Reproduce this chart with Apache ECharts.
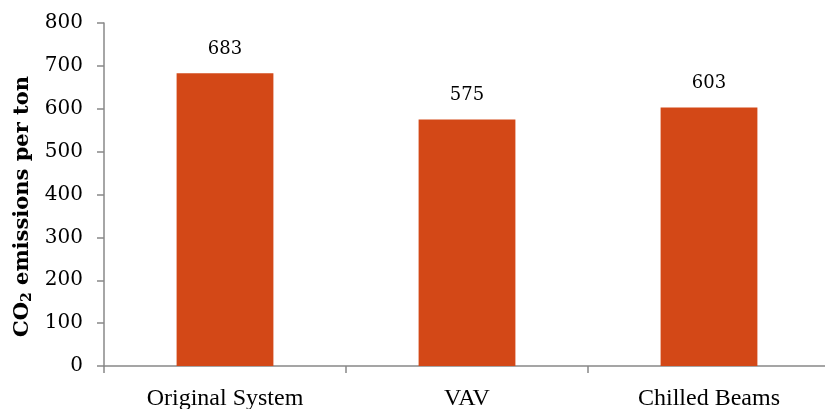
<!DOCTYPE html>
<html><head><meta charset="utf-8">
<script src="https://cdn.jsdelivr.net/npm/echarts@6/dist/echarts.min.js"></script>
<style>html,body{margin:0;padding:0;background:#fff}#c{width:825px;height:409px}</style>
</head><body><div id="c"></div>
<script>
var categories = ['Original System', 'VAV', 'Chilled Beams'];
var values = [683, 575, 603];
var yTicks = [0, 100, 200, 300, 400, 500, 600, 700, 800];

var serif = '"DejaVu Serif", serif';
var narrow = '"Liberation Serif", serif';
var chart = echarts.init(document.getElementById('c'));
chart.setOption({
  animation: false,
  grid: { left: 104, top: 23, width: 726, height: 343, outerBoundsMode: 'none', containLabel: false },
  xAxis: {
    type: 'category',
    data: categories,
    axisLine: { lineStyle: { color: '#888', width: 1.5 } },
    axisTick: { show: true, length: 7, alignWithLabel: false, lineStyle: { color: '#888', width: 1.5 } },
    axisLabel: { color: '#000', fontFamily: narrow, fontSize: 24, margin: 21 }
  },
  yAxis: {
    type: 'value',
    min: yTicks[0], max: yTicks[yTicks.length - 1], interval: 100,
    name: '{b|CO}{s|2}{b| emissions per ton}',
    nameLocation: 'middle',
    nameGap: 56,
    nameTextStyle: {
      padding: [0, 24, 0, 0],
      rich: {
        b: { fontFamily: serif, fontWeight: 'bold', fontSize: 21, color: '#000' },
        s: { fontFamily: serif, fontWeight: 'bold', fontSize: 14, color: '#000', verticalAlign: 'bottom', padding: [8, 0, 0, 0] }
      }
    },
    axisLine: { show: true, lineStyle: { color: '#888', width: 1.5 } },
    axisTick: { show: true, length: 7, inside: false, lineStyle: { color: '#888', width: 1.5 } },
    splitLine: { show: false },
    axisLabel: { color: '#000', fontFamily: serif, fontSize: 20, margin: 21 }
  },
  series: [{
    type: 'bar',
    data: values,
    barWidth: '40%',
    itemStyle: { color: '#D34817' },
    label: { show: true, position: 'top', distance: 15, color: '#000', fontFamily: serif, fontSize: 18 }
  }]
});
</script></body></html>
